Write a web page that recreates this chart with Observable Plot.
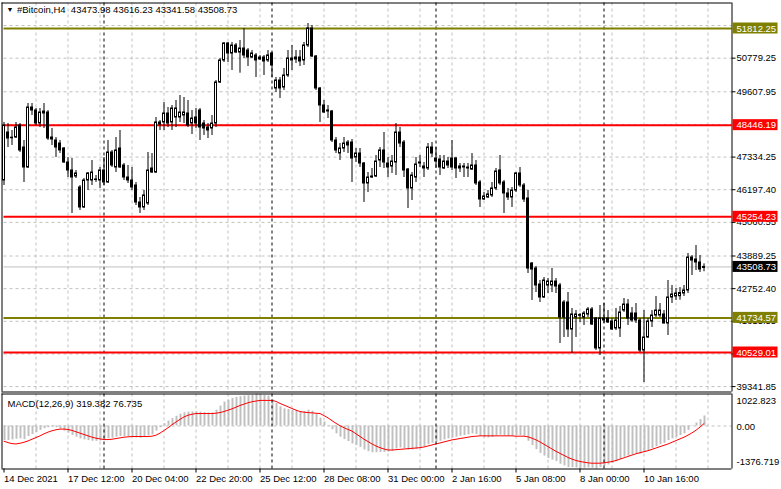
<!DOCTYPE html>
<html><head><meta charset="utf-8">
<script src="https://cdn.jsdelivr.net/npm/d3@7"></script>
<script src="https://cdn.jsdelivr.net/npm/@observablehq/plot@0.6"></script>
<style>
html,body{margin:0;padding:0;background:#fff;}
#chart{position:relative;width:781px;height:489px;overflow:hidden;background:#fff;}
#chart svg{position:absolute;left:0;}
</style></head><body><div id="chart"></div>
<script>
// ---------- DATA (H4 bars, left to right) ----------
const open = [46519,48190,48010,48016,48434,47668,46972,49061,48957,48504,48852,48887,48016,47912,47807,47633,47146,46867,46658,46276,
45579,46519,46519,46536,46519,46867,46450,47494,46972,47633,47041,46623,46519,46345,45753,45579,45718,46937,46797,48539,
48539,48852,48539,48713,48713,48782,48852,48504,48713,48957,48504,48365,48330,48504,49932,50698,51290,50942,51220,50976,
51115,51046,50802,50872,50733,50802,50698,50942,49723,50001,49757,50176,50698,50733,50802,50698,51220,51812,50837,49723,
49131,48957,48922,47912,47459,47633,47842,47842,47320,47459,47111,46415,46623,46658,47215,47564,47111,47007,47146,48190,
47842,46902,46241,46623,47111,46937,46937,47668,47285,47250,46937,47180,47285,47285,46937,46972,46937,46902,47041,46450,
45857,45927,45997,46241,46867,46450,46067,45927,46171,46763,46345,45892,43628,43454,42897,42444,42862,42862,43001,42862,
42270,42270,41330,41748,41830,41748,41852,42026,41713,40669,41643,41713,41609,41365,41365,41991,42200,41887,41887,41643,
40599,41052,41609,41817,41817,41852,41539,42444,42479,42490,42583,42688,43837,43767,43663,43473.98];
const high = [48539,48504,48260,48539,48504,47912,49200,49200,49026,49026,49200,48957,48330,48016,47912,47668,47320,47285,46867,46345,
46589,46797,47215,46693,46972,47320,47912,47564,48016,48260,47111,47041,46972,46450,45927,46171,47494,47459,48713,48608,
49235,49061,49131,49305,49479,49409,49305,48957,49026,49026,48608,48504,48782,50001,50767,51325,51325,51325,51290,51394,
51812,51115,51046,50942,50872,50872,51046,50976,50106,50106,50420,51046,51220,51046,51046,51325,51986,51917,50872,49757,
49305,49131,48957,48016,47807,48016,47912,47947,47633,47633,47146,46797,46937,47389,47668,48190,47320,47389,48504,48365,
47912,46937,46797,47320,47389,47146,47807,47842,47668,47389,47389,47320,47912,47320,47111,47111,47111,47459,47215,46519,
46101,46171,46450,46937,47389,46519,46241,46276,46797,46972,46415,46171,43663,43524,43036,43141,43106,43454,43106,42932,
42340,42618,42061,41991,41887,41957,42096,42096,41748,42166,42235,41991,41713,42061,42131,42409,42374,42096,42235,41713,
41991,41713,41991,42479,42235,41991,43036,42862,42757,42790,42862,43977,43907,44255,43907,43616.23];
const low = [46345,47668,47738,47981,47494,46450,46937,48782,48434,48365,48330,47912,47738,47320,47459,47111,46623,45370,46589,45474,
45544,46171,46345,46450,46241,46345,46415,46972,46797,46937,46519,46415,46171,45648,45370,45474,45648,46763,46763,48260,
48260,48365,48260,48365,48539,48504,48365,48121,48330,47912,48086,47981,48086,48365,49897,50628,50628,50350,50942,50256,
50767,50489,50767,50106,50698,50176,50628,50106,49583,49374,49653,50106,50350,50593,50489,50524,51150,50802,49653,48539,
48852,48678,47842,47459,47215,47494,47459,46450,47146,46972,45753,46101,46589,46623,46972,46937,46623,46763,46693,47668,
46623,45544,45822,46450,46972,46623,46867,47320,46937,46693,46902,46937,46867,46589,46797,46623,46623,46867,46345,45579,
45822,45890,45927,46171,46345,45370,45822,45579,46101,46276,45753,43280,42340,42618,42270,42409,42583,42618,42583,40842,
41052,41052,40494,41052,41574,41469,41748,41469,40599,40425,41539,41539,41295,41295,41052,41922,41469,41574,41539,40529,
39484,41017,41400,41748,41748,41520,41121,42235,42340,42350,42479,42583,43210,43385,43315,43341.58];
const close = [48434,47981,47990,48365,47564,46972,49061,48957,48504,48887,48922,47981,47947,47668,47564,47146,46867,46623,46763,45579,
46519,46763,46797,46554,46867,46450,47494,47041,47564,46972,46623,46519,46276,45753,45579,45997,46867,46797,48539,48469,
48852,48504,49026,49026,48887,48887,48434,48678,48504,48365,48330,48260,48504,49932,50698,51290,50942,51220,50976,51115,
50872,50802,50942,50698,50802,50663,50872,50524,50001,49723,50176,50767,50767,50802,50663,51220,51812,50837,49723,49131,
48887,48922,47912,47564,47633,47807,47738,47285,47459,47111,46415,46623,46658,47180,47564,47146,46972,47180,48190,47807,
46867,46241,46693,47076,47146,47007,47668,47459,47180,46972,47180,47041,46972,46937,47007,47007,46972,47041,46415,45857,
45962,46032,46241,46832,46415,46067,45927,46171,46763,46345,45857,43454,43419,42862,42444,43036,43001,43001,42827,41748,
41748,41330,41852,41852,41810,41887,42026,41504,40669,41713,41713,41574,41330,41643,41922,42200,41713,41643,41643,40599,
41052,41609,41817,41991,41991,41539,42444,42548,42583,42600,42688,43837,43733,43663,43419,43508.73];

// MACD(12,26,9): main line (histogram) and signal line, one value per bar
const macdMain = [-467,-467,-445,-424,-413,-435,-337,-273,-208,-143,-89,-57,-35,-57,-100,-165,-229,-305,-359,-413,
-445,-467,-489,-489,-478,-467,-413,-391,-359,-337,-337,-348,-359,-381,-391,-370,-316,-283,-165,-57,
73,159,235,311,375,419,440,451,451,440,429,419,419,505,635,764,829,883,915,937,
959,969,980,1022.823,991,980,959,851,721,613,548,527,505,483,462,462,505,473,375,246,
127,19,-121,-251,-359,-435,-499,-575,-629,-683,-769,-823,-856,-856,-845,-845,-834,-813,-737,-705,
-726,-769,-769,-748,-705,-661,-597,-553,-521,-489,-445,-413,-381,-359,-327,-305,-283,-251,-273,-337,
-370,-381,-370,-316,-294,-316,-337,-337,-305,-305,-327,-489,-629,-759,-877,-964,-1039,-1093,-1137,-1223,
-1277,-1331,-1331,-1342,-1353,-1353,-1342,-1353,-1376.719,-1331,-1288,-1245,-1201,-1147,-1072,-996,-964,-921,-888,-899,
-856,-791,-726,-661,-597,-553,-467,-413,-359,-305,-251,-143,-13,95,203,319.382];
const macdSignal = [-489,-532,-564,-575,-553,-521,-478,-424,-370,-316,-251,-197,-154,-121,-100,-100,-111,-143,-186,-229,
-273,-316,-359,-391,-413,-435,-435,-424,-402,-381,-359,-348,-337,-337,-337,-337,-337,-327,-294,-229,
-143,-57,41,127,213,289,343,375,397,397,397,397,397,408,429,462,505,548,602,656,
699,743,775,797,818,818,818,818,786,721,667,613,559,505,462,440,429,419,408,397,
332,257,170,84,8,-57,-111,-165,-251,-337,-424,-499,-575,-640,-694,-737,-769,-769,-759,-748,
-737,-726,-715,-705,-694,-672,-640,-607,-575,-543,-510,-478,-445,-424,-402,-381,-359,-337,-327,-316,
-316,-316,-316,-316,-316,-316,-316,-316,-327,-327,-327,-348,-391,-445,-510,-586,-661,-737,-813,-877,
-942,-1007,-1061,-1104,-1137,-1158,-1180,-1191,-1191,-1191,-1180,-1158,-1137,-1104,-1061,-1018,-975,-931,-888,-856,
-823,-791,-748,-705,-661,-618,-575,-521,-467,-413,-359,-294,-219,-135,-35,76.735];

// horizontal levels drawn on the chart
const majorLevels = [51812.25, 41734.57];
const minorLevels = [48446.19, 45254.23, 40529.01];
// price-axis tick labels (and hidden grid levels under the level labels)
const priceTicks = [50779.25, 49607.95, 47334.25, 46197.40, 45060.55, 43889.25, 42752.40, 41615.55, 40478.70, 39341.85];
const hiddenGrid = [51916.10, 48471.10];
// time axis
const dateLabels = ["14 Dec 2021","17 Dec 12:00","20 Dec 04:00","22 Dec 20:00","25 Dec 12:00","28 Dec 08:00","31 Dec 00:00","2 Jan 16:00","5 Jan 08:00","8 Jan 00:00","10 Jan 16:00"];
const dateLabelBars = [0,16,32,48,64,80,96,112,128,144,160];
const gridBars = [8,16,24,32,40,48,56,64,72,80,88,96,104,112,120,128,136,144,152,160,168,176];
const weekBars = [25,67,108,150];
const symbol = "#Bitcoin,H4";
const macdTitle = "MACD(12,26,9) 319.382 76.735";

// ---------- BUILD ----------
const candles = open.map((o, i) => ({i, open: o, high: high[i], low: low[i], close: close[i], up: close[i] >= o}));
const macdData = macdMain.map((v, i) => ({i, v}));
const sigData = macdSignal.map((v, i) => ({i, v}));
const last = candles[candles.length - 1];
const NB = "\u00a0";
const titleText = `${symbol}${NB}${NB}${last.open.toFixed(2)} ${last.high.toFixed(2)} ${last.low.toFixed(2)} ${last.close.toFixed(2)}`;

const FONT = "Liberation Sans, Arial, sans-serif";
const FS = 9.5;
const X = {domain: [0, 182], axis: null};
const GRID = "#c0c0c0";
const OLIVE = "#808000", RED = "#ff0000";

const Y_TOP = 52700.3, Y_BOT = 39153.4;
const MAIN_H = 392;
const ppp = (Y_TOP - Y_BOT) / (MAIN_H - 3); // price per pixel
const hh = 5.5 * ppp;
const boxX1 = 182.25, boxX2 = 193.5;

const levelBoxes = [
  ...majorLevels.map(p => ({p, c: OLIVE})),
  ...minorLevels.map(p => ({p, c: RED})),
  {p: last.close, c: "#000000"}
];

const main = Plot.plot({
  width: 781, height: MAIN_H,
  marginLeft: 3.5, marginRight: 49.5, marginTop: 2.5, marginBottom: 0.5,
  x: X, y: {domain: [Y_BOT, Y_TOP], axis: null},
  color: {type: "identity"},
  style: {fontFamily: FONT, fontSize: FS + "px", background: "transparent", overflow: "visible"},
  marks: [
    Plot.ruleY([...priceTicks, ...hiddenGrid], {stroke: GRID, strokeDasharray: "3,3"}),
    Plot.ruleX(gridBars, {stroke: GRID, strokeDasharray: "3,3"}),
    Plot.ruleX(weekBars, {stroke: "black", strokeDasharray: "3,3"}),
    Plot.ruleY([last.close], {stroke: GRID}),
    Plot.ruleY(majorLevels, {stroke: OLIVE, strokeWidth: 2}),
    Plot.ruleY(minorLevels, {stroke: RED, strokeWidth: 2}),
    Plot.ruleX(candles, {x: "i", y1: "low", y2: "high", stroke: "black"}),
    Plot.rect(candles, {x1: d => d.i - 0.25, x2: d => d.i + 0.25, y1: "open", y2: "close",
      fill: d => d.up ? "white" : "black", stroke: "black"}),
    // frame
    Plot.ruleX([-0.5], {stroke: "black"}),
    Plot.ruleX([182], {stroke: "black"}),
    Plot.ruleY([Y_TOP], {stroke: "black", x1: -0.5, x2: 182}),
    Plot.ruleY([Y_BOT], {stroke: "black", x1: -0.5, x2: 182}),
    // price axis
    Plot.ruleY(priceTicks, {x1: 182, x2: 183, stroke: "black"}),
    Plot.text(priceTicks, {x: 182, y: d => d, text: d => d.toFixed(2), textAnchor: "start", dx: 4.5, fill: "black", fontSize: FS, lineAnchor: "middle"}),
    Plot.rect(levelBoxes, {x1: boxX1, x2: boxX2, y1: d => d.p - hh, y2: d => d.p + hh, fill: d => d.c}),
    Plot.text(levelBoxes, {x: 182, y: "p", text: d => d.p.toFixed(2), textAnchor: "start", dx: 4.5, fill: "white", fontSize: FS, lineAnchor: "middle"}),
    // title
    Plot.text(["▼"], {frameAnchor: "top-left", dx: 6, dy: 7, textAnchor: "middle", lineAnchor: "middle", fontSize: 7, fill: "black"}),
    Plot.text([titleText], {frameAnchor: "top-left", dx: 13, dy: 6.5, textAnchor: "start", lineAnchor: "middle", fontSize: FS, fill: "black"})
  ]
});

const M_MAX = 1022.823, M_MIN = -1376.719;
const MACD_H = 97;
const mppp = (M_MAX - M_MIN) / 75;
const macd = Plot.plot({
  width: 781, height: MACD_H,
  marginLeft: 3.5, marginRight: 49.5, marginTop: 1.5, marginBottom: 20.5,
  x: X, y: {domain: [M_MIN, M_MAX], axis: null},
  style: {fontFamily: FONT, fontSize: FS + "px", background: "transparent", overflow: "visible"},
  marks: [
    Plot.ruleX(gridBars, {stroke: GRID, strokeDasharray: "3,3"}),
    Plot.ruleY([0], {stroke: GRID, strokeDasharray: "3,3"}),
    Plot.ruleX(macdData, {x: "i", y1: 0, y2: "v", stroke: GRID, strokeWidth: 2, dx: 0.5}),
    Plot.line(sigData, {x: "i", y: "v", stroke: RED, strokeWidth: 1}),
    Plot.ruleX(weekBars, {stroke: "black", strokeDasharray: "3,3"}),
    Plot.ruleX([-0.5], {stroke: "black"}),
    Plot.ruleX([182], {stroke: "black"}),
    Plot.ruleY([M_MAX], {stroke: "black", x1: -0.5, x2: 182}),
    Plot.ruleY([M_MIN], {stroke: "black", x1: -0.5, x2: 182}),
    Plot.text([macdTitle], {frameAnchor: "top-left", dx: 3.5, dy: 9.5, textAnchor: "start", lineAnchor: "middle", fontSize: FS, fill: "black"}),
    Plot.text([M_MAX], {x: 182, y: d => d, text: d => d.toFixed(3), dx: 4.5, dy: 6.5, textAnchor: "start", lineAnchor: "middle", fontSize: FS, fill: "black"}),
    Plot.text([0], {x: 182, y: d => d, text: d => d.toFixed(2), dx: 4.5, dy: 0.5, textAnchor: "start", lineAnchor: "middle", fontSize: FS, fill: "black"}),
    Plot.text([M_MIN], {x: 182, y: d => d, text: d => d.toFixed(3), dx: 4.5, dy: -7.5, textAnchor: "start", lineAnchor: "middle", fontSize: FS, fill: "black"}),
    // time axis
    Plot.ruleX(dateLabelBars, {y1: M_MIN, y2: M_MIN - 4 * mppp, stroke: "black"}),
    Plot.text(dateLabelBars, {x: d => d, y: M_MIN, text: (d, k) => dateLabels[k], dx: 0, dy: 9.5, textAnchor: "start", lineAnchor: "middle", fontSize: FS, fill: "black"})
  ]
});

const root = document.getElementById("chart");
main.style.top = "0px";
macd.style.top = "392px";
root.appendChild(main);
root.appendChild(macd);
</script>
</body></html>
